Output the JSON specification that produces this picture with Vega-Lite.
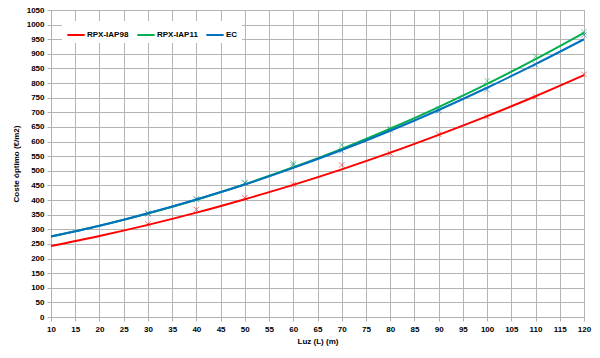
{
  "$schema": "https://vega.github.io/schema/vega-lite/v6.json",
  "autosize": {"type": "none"},
  "width": 533,
  "height": 307,
  "padding": {"left": 51, "top": 10, "right": 16, "bottom": 41},
  "background": "white",
  "config": {
    "view": {"stroke": "#b0b0b0", "strokeWidth": 1},
    "font": "Liberation Sans",
    "axis": {
      "labelFont": "Liberation Sans", "labelFontWeight": "bold", "labelFontSize": 8, "labelColor": "#000",
      "titleFont": "Liberation Sans", "titleFontWeight": "bold", "titleFontSize": 8, "titleColor": "#000",
      "gridColor": "#b4b4b4", "gridWidth": 1, "gridOpacity": 1,
      "domainColor": "#b0b0b0", "tickColor": "#b0b0b0", "tickSize": 4
    }
  },
  "data": {"values": [
    {"s": "RPX-IAP98", "k": "fit", "x": 10, "y": 243},
    {"s": "RPX-IAP98", "k": "fit", "x": 20, "y": 277},
    {"s": "RPX-IAP98", "k": "fit", "x": 30, "y": 315},
    {"s": "RPX-IAP98", "k": "fit", "x": 40, "y": 357},
    {"s": "RPX-IAP98", "k": "fit", "x": 50, "y": 403},
    {"s": "RPX-IAP98", "k": "fit", "x": 60, "y": 452},
    {"s": "RPX-IAP98", "k": "fit", "x": 70, "y": 505},
    {"s": "RPX-IAP98", "k": "fit", "x": 80, "y": 562},
    {"s": "RPX-IAP98", "k": "fit", "x": 90, "y": 623},
    {"s": "RPX-IAP98", "k": "fit", "x": 100, "y": 687},
    {"s": "RPX-IAP98", "k": "fit", "x": 110, "y": 755},
    {"s": "RPX-IAP98", "k": "fit", "x": 120, "y": 827},
    {"s": "RPX-IAP11", "k": "fit", "x": 10, "y": 275},
    {"s": "RPX-IAP11", "k": "fit", "x": 20, "y": 312},
    {"s": "RPX-IAP11", "k": "fit", "x": 30, "y": 354},
    {"s": "RPX-IAP11", "k": "fit", "x": 40, "y": 401},
    {"s": "RPX-IAP11", "k": "fit", "x": 50, "y": 454},
    {"s": "RPX-IAP11", "k": "fit", "x": 60, "y": 512},
    {"s": "RPX-IAP11", "k": "fit", "x": 70, "y": 575},
    {"s": "RPX-IAP11", "k": "fit", "x": 80, "y": 644},
    {"s": "RPX-IAP11", "k": "fit", "x": 90, "y": 718},
    {"s": "RPX-IAP11", "k": "fit", "x": 100, "y": 797},
    {"s": "RPX-IAP11", "k": "fit", "x": 110, "y": 882},
    {"s": "RPX-IAP11", "k": "fit", "x": 120, "y": 972},
    {"s": "EC", "k": "fit", "x": 10, "y": 275},
    {"s": "EC", "k": "fit", "x": 20, "y": 312},
    {"s": "EC", "k": "fit", "x": 30, "y": 355},
    {"s": "EC", "k": "fit", "x": 40, "y": 402},
    {"s": "EC", "k": "fit", "x": 50, "y": 453},
    {"s": "EC", "k": "fit", "x": 60, "y": 510},
    {"s": "EC", "k": "fit", "x": 70, "y": 571},
    {"s": "EC", "k": "fit", "x": 80, "y": 637},
    {"s": "EC", "k": "fit", "x": 90, "y": 708},
    {"s": "EC", "k": "fit", "x": 100, "y": 784},
    {"s": "EC", "k": "fit", "x": 110, "y": 865},
    {"s": "EC", "k": "fit", "x": 120, "y": 950},
    {"s": "RPX-IAP98", "k": "obs", "x": 30, "y": 318},
    {"s": "RPX-IAP98", "k": "obs", "x": 40, "y": 368},
    {"s": "RPX-IAP98", "k": "obs", "x": 50, "y": 408},
    {"s": "RPX-IAP98", "k": "obs", "x": 60, "y": 453},
    {"s": "RPX-IAP98", "k": "obs", "x": 70, "y": 520},
    {"s": "RPX-IAP98", "k": "obs", "x": 80, "y": 560},
    {"s": "RPX-IAP98", "k": "obs", "x": 90, "y": 625},
    {"s": "RPX-IAP98", "k": "obs", "x": 100, "y": 685},
    {"s": "RPX-IAP98", "k": "obs", "x": 110, "y": 753},
    {"s": "RPX-IAP98", "k": "obs", "x": 120, "y": 830},
    {"s": "RPX-IAP11", "k": "obs", "x": 30, "y": 356},
    {"s": "RPX-IAP11", "k": "obs", "x": 40, "y": 404},
    {"s": "RPX-IAP11", "k": "obs", "x": 50, "y": 460},
    {"s": "RPX-IAP11", "k": "obs", "x": 60, "y": 526},
    {"s": "RPX-IAP11", "k": "obs", "x": 70, "y": 588},
    {"s": "RPX-IAP11", "k": "obs", "x": 80, "y": 645},
    {"s": "RPX-IAP11", "k": "obs", "x": 90, "y": 712},
    {"s": "RPX-IAP11", "k": "obs", "x": 100, "y": 808},
    {"s": "RPX-IAP11", "k": "obs", "x": 110, "y": 892},
    {"s": "RPX-IAP11", "k": "obs", "x": 120, "y": 975},
    {"s": "EC", "k": "obs", "x": 30, "y": 353},
    {"s": "EC", "k": "obs", "x": 40, "y": 402},
    {"s": "EC", "k": "obs", "x": 50, "y": 458},
    {"s": "EC", "k": "obs", "x": 60, "y": 520},
    {"s": "EC", "k": "obs", "x": 70, "y": 568},
    {"s": "EC", "k": "obs", "x": 80, "y": 640},
    {"s": "EC", "k": "obs", "x": 90, "y": 705},
    {"s": "EC", "k": "obs", "x": 100, "y": 778},
    {"s": "EC", "k": "obs", "x": 110, "y": 863},
    {"s": "EC", "k": "obs", "x": 120, "y": 965}
  ]},
  "encoding": {
    "x": {"field": "x", "type": "quantitative", "title": "Luz (L) (m)",
      "scale": {"domain": [10, 120], "nice": false, "zero": false},
      "axis": {"values": [10,15,20,25,30,35,40,45,50,55,60,65,70,75,80,85,90,95,100,105,110,115,120], "format": "d", "labelPadding": 4, "titlePadding": 4, "labelFlush": false}},
    "y": {"field": "y", "type": "quantitative", "title": "Coste óptimo (€/m2)",
      "scale": {"domain": [0, 1050], "nice": false},
      "axis": {"values": [0,50,100,150,200,250,300,350,400,450,500,550,600,650,700,750,800,850,900,950,1000,1050], "format": "d", "labelPadding": 3, "titlePadding": 6}}
  },
  "layer": [
    {
      "transform": [{"filter": "datum.k === 'obs'"}],
      "mark": {"type": "point", "shape": "M-1,-1L1,1M1,-1L-1,1", "filled": false, "size": 30, "strokeWidth": 1, "opacity": 0.55},
      "encoding": {
        "color": {"field": "s", "type": "nominal", "legend": null,
          "scale": {"domain": ["RPX-IAP98", "RPX-IAP11", "EC"], "range": ["#ff0000", "#00b050", "#0070c0"]}}
      }
    },
    {
      "transform": [{"filter": "datum.k === 'fit'"}],
      "mark": {"type": "line", "interpolate": "monotone", "strokeWidth": 2},
      "encoding": {
        "color": {"field": "s", "type": "nominal",
          "scale": {"domain": ["RPX-IAP98", "RPX-IAP11", "EC"], "range": ["#ff0000", "#00b050", "#0070c0"]},
          "sort": ["RPX-IAP98", "RPX-IAP11", "EC"],
          "legend": {"title": null, "orient": "none", "direction": "horizontal", "legendX": 11, "legendY": 11,
            "symbolType": "stroke", "symbolSize": 300, "symbolStrokeWidth": 2,
            "labelFont": "Liberation Sans", "labelFontWeight": "bold", "labelFontSize": 8, "labelColor": "#000",
            "labelOffset": 1, "columnPadding": 4, "fillColor": "white", "padding": 4}
        }
      }
    }
  ],
  "resolve": {"legend": {"color": "independent"}}
}
